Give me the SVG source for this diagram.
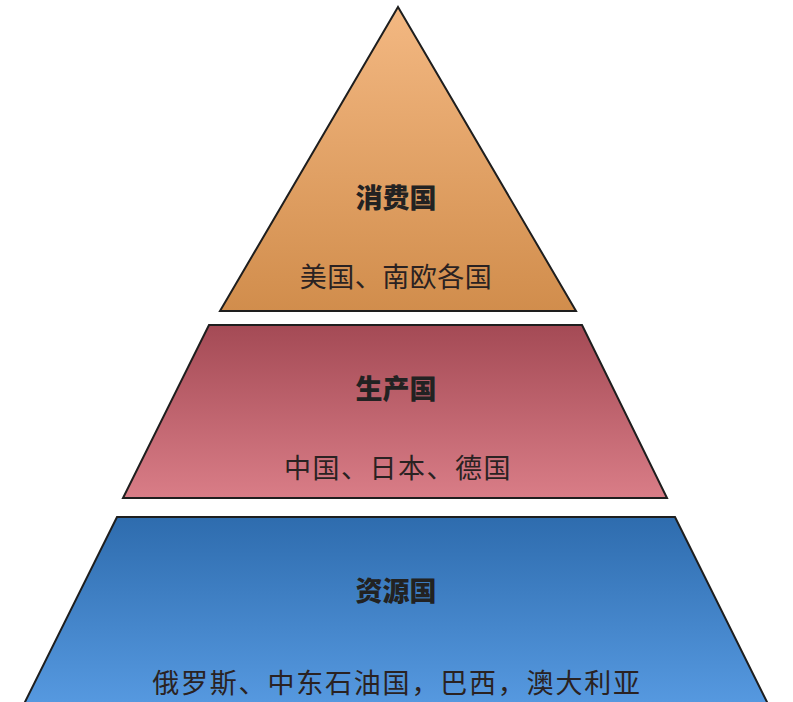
<svg xmlns="http://www.w3.org/2000/svg" width="793" height="702" viewBox="0 0 793 702">
<defs>
<linearGradient id="gTop" x1="0" y1="0" x2="0" y2="1"><stop offset="0" stop-color="#f3b882"/><stop offset="1" stop-color="#d18d4c"/></linearGradient>
<linearGradient id="gMid" x1="0" y1="0" x2="0" y2="1"><stop offset="0" stop-color="#a44a55"/><stop offset="1" stop-color="#d97d87"/></linearGradient>
<linearGradient id="gBot" x1="0" y1="0" x2="0" y2="1"><stop offset="0" stop-color="#2e6cae"/><stop offset="1" stop-color="#5699e0"/></linearGradient>
<style>
.shape{stroke:#1e1e1e;stroke-width:2;stroke-linejoin:miter}
.title{font-family:"Noto Sans CJK SC","Noto Sans",sans-serif;font-weight:900;font-size:27px;fill:#222;text-anchor:middle}
.sub{font-family:"Noto Sans CJK SC","Noto Sans",sans-serif;font-size:27px;fill:#2a2222;text-anchor:middle}
</style>
</defs>
<rect width="793" height="702" fill="#ffffff"/>
<g id="consumer">
<polygon class="shape" fill="url(#gTop)" points="398,7 576,311 220,311"/>
<text class="title" x="396" y="208">消费国</text>
<text class="sub" x="396" y="287" letter-spacing="0.5">美国、南欧各国</text>
</g>
<g id="producer">
<polygon class="shape" fill="url(#gMid)" points="209,325 582,325 667,498 123,498"/>
<text class="title" x="396" y="399">生产国</text>
<text class="sub" x="398" y="478" letter-spacing="1.5">中国、日本、德国</text>
</g>
<g id="resource">
<polygon class="shape" fill="url(#gBot)" points="117,517 675,517 768,704 24,704"/>
<text class="title" x="396" y="601">资源国</text>
<text class="sub" x="397" y="693" font-size="26.5" letter-spacing="1.8">俄罗斯、中东石油国，巴西，澳大利亚</text>
</g>
<g id="connectors"/>
</svg>
